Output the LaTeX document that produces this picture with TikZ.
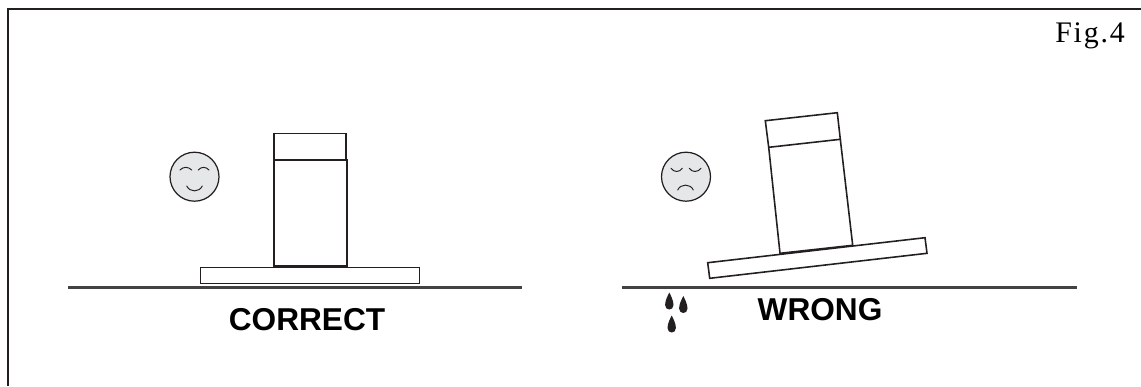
\documentclass[tikz,border=0pt]{standalone}
\usepackage{fontspec}
\setsansfont{Liberation Sans}
\newfontfamily\figfont[LetterSpace=6]{Liberation Serif}
\usepackage{xcolor}
\definecolor{facegray}{HTML}{E6E7E8}
\definecolor{inkdark}{HTML}{231F20}
\usetikzlibrary{positioning}

\begin{document}
\begin{tikzpicture}[
  x=0.02cm, y=-0.02cm,
  frameline/.style={draw=inkdark, line width=1.15pt},
  hoodline/.style={draw=inkdark, line width=0.9pt, line join=miter},
  groundline/.style={draw=inkdark!85, line width=1.15pt},
  faceline/.style={draw=inkdark, line width=0.55pt, line cap=round},
  face/.style={circle, draw=inkdark, line width=0.7pt, fill=facegray, minimum size=0.98cm, inner sep=0pt},
  verdict/.style={font=\sffamily\bfseries\fontsize{18}{20}\selectfont, inner sep=0pt},
  droplet/.style={fill=inkdark, draw=none}
]
\useasboundingbox (0,0) rectangle (1141,386);

% frame and figure number
\draw[frameline] (8,386) -- (8,9) -- (1141,9);
\node[anchor=base west, inner sep=0pt, font=\figfont\fontsize{17}{20}\selectfont] (figno) at (1055,42) {Fig.4};

% correct
\draw[hoodline] (274,160) rectangle (346,133.5);
\draw[hoodline] (274,160) rectangle (347,266);
\draw[hoodline, fill=white] (200.5,267.5) rectangle (419.5,283.5);
\draw[groundline] (68,287.5) -- (522,287.5);
\node[verdict] (correct) at (307,319.5) {CORRECT};
\node[face] (happy) at (194.5,176.7) {};
\draw[faceline] (180,170) .. controls (183,166.5) and (188.5,166.5) .. (191.7,170);
\draw[faceline] (198.3,170) .. controls (201,166.5) and (206,166.5) .. (209,170);
\draw[faceline] (186.7,186) .. controls (190,192.5) and (199,192.5) .. (202.3,186);

% wrong
\draw[hoodline] (765.3,120.7) -- (837.3,112.7) -- (840.3,139.3) -- (768.7,147.3) -- cycle;
\draw[hoodline] (768.7,147.3) -- (780,253.3) -- (852.7,245.3) -- (840.3,139.3);
\draw[hoodline, fill=white] (707.7,262.7) -- (925,237.7) -- (927,253.3) -- (709.7,278.3) -- cycle;
\draw[groundline] (622,287.5) -- (1077,287.5);
\node[verdict] (wrong) at (820,310) {WRONG};
\node[face] (sad) at (686,176.7) {};
\draw[faceline] (671,168.3) .. controls (674,172.5) and (679.5,172.5) .. (682.3,168.3);
\draw[faceline] (689.3,168.3) .. controls (692,172.5) and (698,172.5) .. (701,168.3);
\draw[faceline] (677.7,190) .. controls (680.5,183.5) and (690.5,183.5) .. (693.3,190);

% drops
\foreach \dx/\dy in {669.3/292.5, 683.3/296, 671.7/315.5}{
  \fill[droplet] (\dx,\dy) .. controls (\dx+1.5,\dy+3) and (\dx+4.2,\dy+8) .. (\dx+4.2,\dy+12.5)
    .. controls (\dx+4.2,\dy+18.5) and (\dx-4.2,\dy+18.5) .. (\dx-4.2,\dy+12.5)
    .. controls (\dx-4.2,\dy+8) and (\dx-1.5,\dy+3) .. (\dx,\dy);
}
\end{tikzpicture}
\end{document}
